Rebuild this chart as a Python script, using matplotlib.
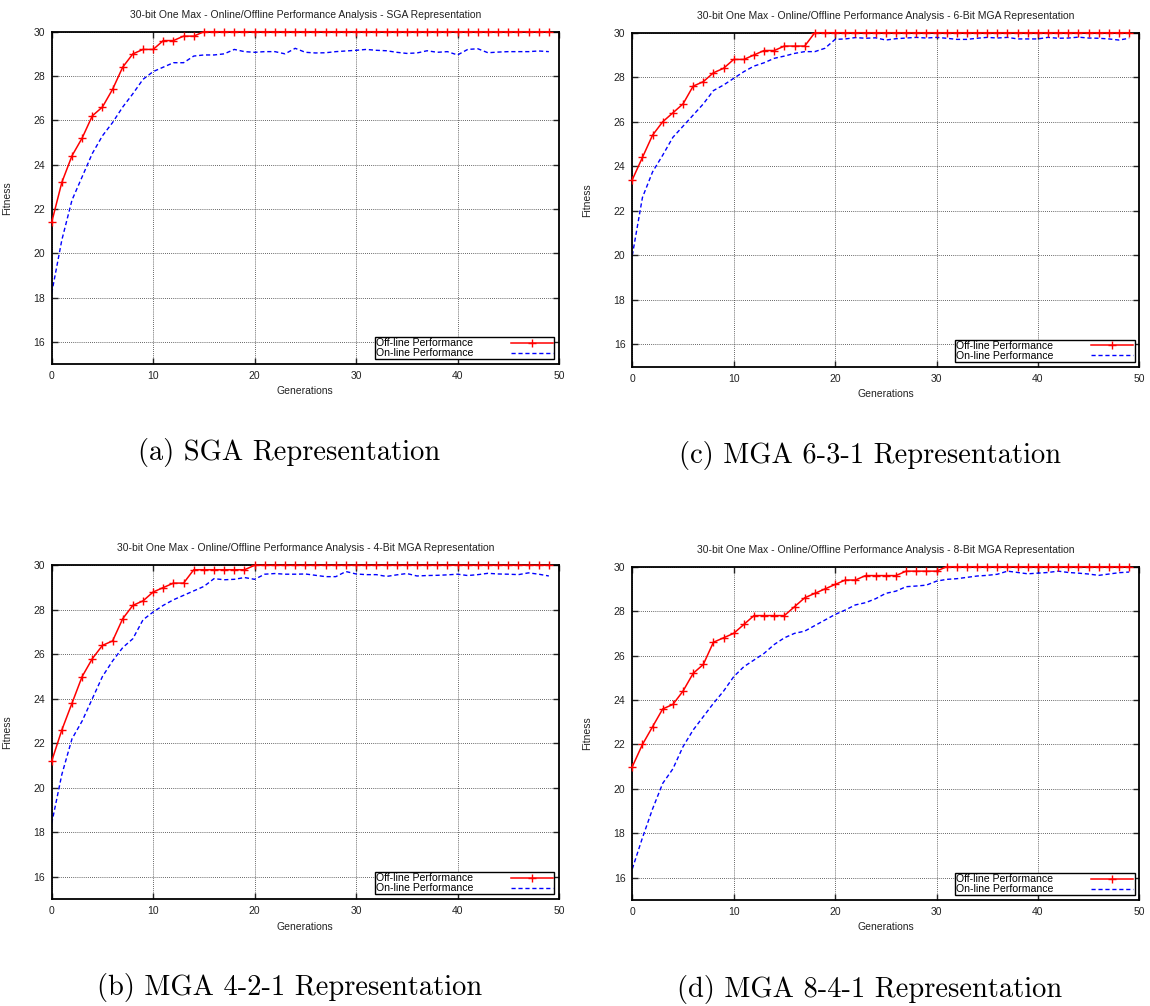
import matplotlib
matplotlib.use("Agg")
import matplotlib.pyplot as plt
import numpy as np

# Generations 0..49
generations = np.arange(50)

# (a) SGA representation
sga_offline = [21.4, 23.2, 24.4, 25.2, 26.2, 26.6, 27.4, 28.4, 29.0, 29.2,
               29.2, 29.6, 29.6, 29.8, 29.8] + [30.0] * 35
sga_online = [18.2, 20.6, 22.4, 23.45, 24.5, 25.3, 25.9, 26.6, 27.2, 27.85,
              28.2, 28.4, 28.6, 28.6, 28.9, 28.95, 28.95, 29.0, 29.2, 29.1,
              29.07, 29.1, 29.1, 29.0, 29.25, 29.07, 29.04, 29.05, 29.1, 29.13,
              29.16, 29.2, 29.16, 29.14, 29.07, 29.02, 29.04, 29.14, 29.07, 29.1,
              28.95, 29.2, 29.23, 29.05, 29.08, 29.1, 29.1, 29.1, 29.13, 29.1]

# (c) MGA 6-3-1 representation
mga631_offline = [23.4, 24.4, 25.4, 26.0, 26.4, 26.8, 27.6, 27.8, 28.2, 28.4,
                  28.8, 28.8, 29.0, 29.2, 29.2, 29.4, 29.4, 29.4] + [30.0] * 32
mga631_online = [20.0, 22.6, 23.75, 24.5, 25.3, 25.8, 26.3, 26.8, 27.4, 27.65,
                 27.95, 28.25, 28.5, 28.65, 28.85, 28.95, 29.07, 29.15, 29.15, 29.3,
                 29.7, 29.72, 29.78, 29.75, 29.77, 29.67, 29.73, 29.76, 29.79, 29.76,
                 29.79, 29.75, 29.7, 29.7, 29.75, 29.79, 29.76, 29.79, 29.72, 29.72,
                 29.72, 29.79, 29.75, 29.76, 29.8, 29.76, 29.75, 29.72, 29.67, 29.75]

# (b) MGA 4-2-1 representation
mga421_offline = [21.2, 22.6, 23.8, 25.0, 25.8, 26.4, 26.6, 27.6, 28.2, 28.4,
                  28.8, 29.0, 29.2, 29.2, 29.8, 29.8, 29.8, 29.8, 29.8, 29.8] + [30.0] * 30
mga421_online = [18.4, 20.6, 22.2, 23.0, 24.0, 25.0, 25.7, 26.3, 26.7, 27.55,
                 27.9, 28.2, 28.45, 28.65, 28.85, 29.05, 29.4, 29.35, 29.37, 29.45,
                 29.37, 29.6, 29.63, 29.6, 29.6, 29.61, 29.55, 29.49, 29.49, 29.72,
                 29.61, 29.58, 29.58, 29.5, 29.57, 29.63, 29.52, 29.54, 29.55, 29.57,
                 29.6, 29.54, 29.58, 29.64, 29.61, 29.6, 29.58, 29.66, 29.6, 29.52]

# (d) MGA 8-4-1 representation
mga841_offline = [21.0, 22.0, 22.8, 23.6, 23.8, 24.4, 25.2, 25.6, 26.6, 26.8,
                  27.0, 27.4, 27.8, 27.8, 27.8, 27.8, 28.2, 28.6, 28.8, 29.0,
                  29.2, 29.4, 29.4, 29.6, 29.6, 29.6, 29.6, 29.8, 29.8, 29.8,
                  29.8] + [30.0] * 19
mga841_online = [16.4, 17.8, 19.1, 20.25, 20.9, 21.9, 22.65, 23.25, 23.85, 24.4,
                 25.05, 25.5, 25.8, 26.1, 26.5, 26.8, 27.0, 27.1, 27.35, 27.6,
                 27.85, 28.05, 28.28, 28.38, 28.56, 28.8, 28.9, 29.1, 29.13, 29.17,
                 29.35, 29.43, 29.46, 29.52, 29.58, 29.61, 29.66, 29.8, 29.74, 29.68,
                 29.71, 29.74, 29.8, 29.74, 29.71, 29.67, 29.61, 29.67, 29.73, 29.76]

titles = ["30-bit One Max - Online/Offline Performance Analysis - SGA Representation",
          "30-bit One Max - Online/Offline Performance Analysis - 6-Bit MGA Representation",
          "30-bit One Max - Online/Offline Performance Analysis - 4-Bit MGA Representation",
          "30-bit One Max - Online/Offline Performance Analysis - 8-Bit MGA Representation"]
captions = ["(a) SGA Representation", "(c) MGA 6-3-1 Representation",
            "(b) MGA 4-2-1 Representation", "(d) MGA 8-4-1 Representation"]
offline_series = [sga_offline, mga631_offline, mga421_offline, mga841_offline]
online_series = [sga_online, mga631_online, mga421_online, mga841_online]
x_ticks = [0, 10, 20, 30, 40, 50]
y_ticks = [16, 18, 20, 22, 24, 26, 28, 30]

W, H = 1150, 1006
plt.rcParams['font.family'] = ['Liberation Sans', 'DejaVu Sans']
fig = plt.figure(figsize=(W / 100, H / 100), dpi=100)

# panel boxes in pixels: left, top, right, bottom
boxes = [(51.7, 31.7, 559, 364), (632.3, 32.7, 1139.3, 366.7),
         (51.7, 565.3, 559, 899), (632.3, 566.7, 1139.3, 900)]
label_x = [12, 592, 12, 592]

for box, lx, title, caption, off, on in zip(boxes, label_x, titles, captions,
                                            offline_series, online_series):
    l, t, r, b = box
    ax = fig.add_axes([l / W, 1 - b / H, (r - l) / W, (b - t) / H])
    ax.plot(generations, off, color='#ff0000', lw=1.1, marker='+', ms=6,
            mew=1.0, label='Off-line Performance', zorder=3, clip_on=False)
    ax.plot(generations, on, color='#0000ff', lw=1.0, ls=(0, (3, 2)),
            label='On-line Performance', zorder=2)
    ax.set_xlim(0, 50)
    ax.set_ylim(15, 30)
    ax.set_xticks(x_ticks)
    ax.set_yticks(y_ticks)
    ax.tick_params(direction='in', top=True, right=True, labelsize=7.5,
                   length=4, width=1.0, pad=5, colors='#222222')
    ax.grid(True, color='#333333', ls=(0, (1, 1.5)), lw=0.6)
    for s in ax.spines.values():
        s.set_linewidth(1.3)
        s.set_color('black')
    ax.set_xlabel('Generations', fontsize=7.5, labelpad=4, color='#222222')
    ax.set_ylabel('Fitness', fontsize=7.5, color='#222222')
    ax.yaxis.set_label_coords((lx - l) / (r - l), 0.5)
    ax.set_title(title, fontsize=7.5, pad=10, color='#222222')
    leg = ax.legend(loc='lower right', fontsize=7.6, markerfirst=False,
                    frameon=True, fancybox=False, borderpad=0.1,
                    handlelength=4.0, handletextpad=3.6, labelspacing=0.0,
                    borderaxespad=0.45, framealpha=1.0)
    leg.get_frame().set_edgecolor('black')
    leg.get_frame().set_linewidth(1.0)
    cx = (l + r) / 2 - 16
    cy = b + 89
    fig.text(cx / W, 1 - cy / H, caption, family='cmr10', fontsize=20.5,
             ha='center', va='center')

fig.savefig('out.png', dpi=100)
